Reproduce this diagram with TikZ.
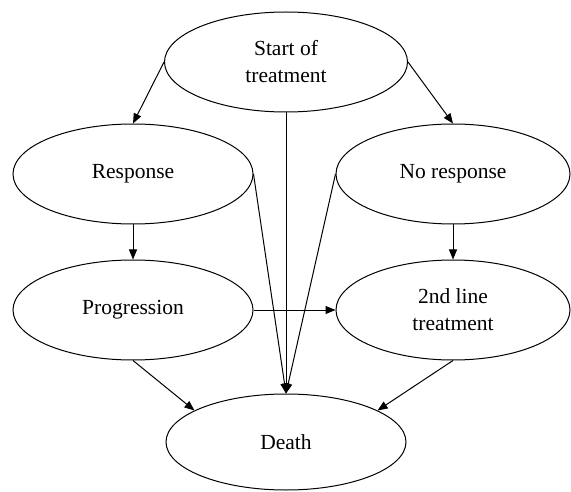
\documentclass[tikz,border=0pt]{standalone}
\usepackage{fontspec}
\setmainfont{Liberation Serif}
\usetikzlibrary{shapes.geometric,arrows.meta}
\begin{document}
\begin{tikzpicture}[x=1pt,y=-1pt,
  state/.style={draw, ellipse, line width=1pt, inner sep=0pt, align=center,
    font=\fontsize{21.5}{27}\selectfont, minimum width=240pt, minimum height=100pt},
  arr/.style={line width=1pt, -{Triangle[length=10pt,width=8pt]}}]
\useasboundingbox (0,0) rectangle (571,492);
\node[state, minimum width=243pt] (start) at (286,62) {Start of\\treatment};
\node[state] (resp) at (133,174) {Response};
\node[state, minimum width=234pt] (nores) at (453,174) {No response};
\node[state] (prog) at (133,310) {Progression};
\node[state, minimum width=234pt] (second) at (453,310) {2nd line\\treatment};
\node[state, minimum height=96pt] (death) at (286,442) {Death};
\draw[arr] (start.west) -- (resp.north);
\draw[arr] (start.east) -- (nores.north);
\draw[arr] (start.south) -- (death.north);
\draw[arr] (resp.east) -- (death.north);
\draw[arr] (nores.west) -- (death.north);
\draw[arr] (resp.south) -- (prog.north);
\draw[arr] (nores.south) -- (second.north);
\draw[arr] (prog.east) -- (second.west);
\draw[arr] (prog.south) -- (death.161);
\draw[arr] (second.south) -- (death.19);
\end{tikzpicture}
\end{document}
